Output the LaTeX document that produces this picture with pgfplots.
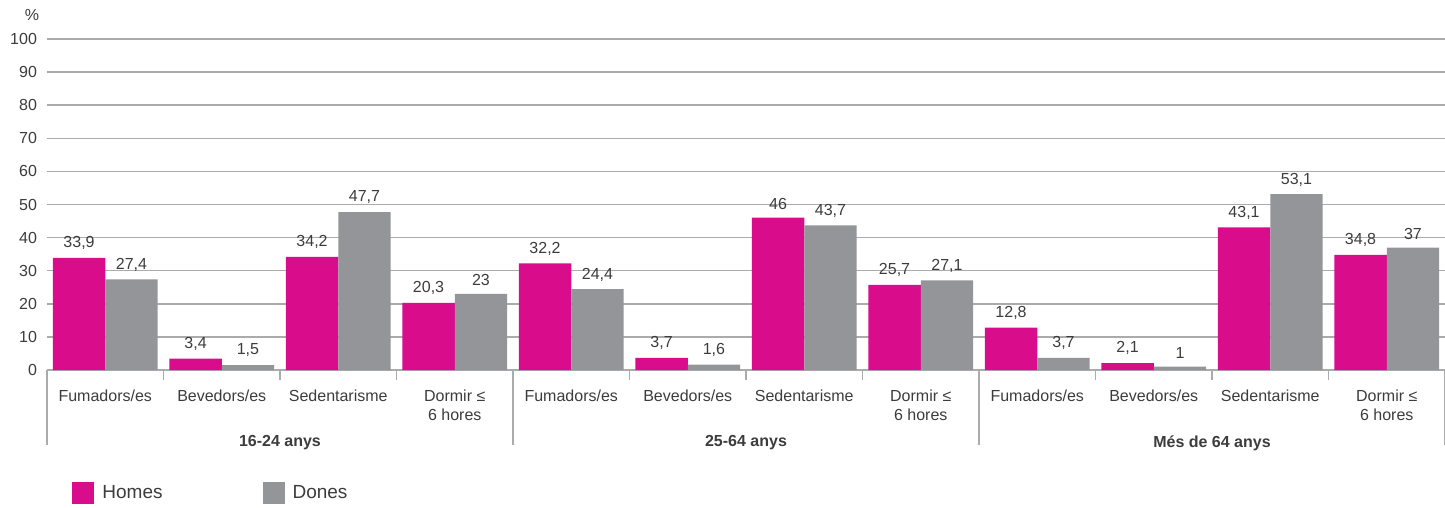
\documentclass[border=0pt]{standalone}
\usepackage{fontspec}
\setmainfont{Liberation Sans}
\usepackage{pgfplots}
\pgfplotsset{compat=1.18}
\definecolor{mag}{HTML}{D90D8B}
\definecolor{gr}{HTML}{939598}
\definecolor{txt}{HTML}{3C3C3C}
\definecolor{gridc}{HTML}{ABABAB}

\pgfplotstableread{
x h d
0 33.9 27.4
1 3.4 1.5
2 34.2 47.7
3 20.3 23
4 32.2 24.4
5 3.7 1.6
6 46 43.7
7 25.7 27.1
8 12.8 3.7
9 2.1 1
10 43.1 53.1
11 34.8 37
}\datatable

\begin{document}
\begin{tikzpicture}
\begin{axis}[
  at={(0,0)}, anchor=south west,
  scale only axis, width=699pt, height=165.5pt,
  xmin=-0.5, xmax=11.5, ymin=0, ymax=100,
  enlargelimits=false,
  ybar=0pt, bar width=0.45,
  ytick={0,10,...,100},
  xtick={0,...,11},
  xticklabels={Fumadors/es,Bevedors/es,Sedentarisme,{Dormir ≤\\6 hores},
               Fumadors/es,Bevedors/es,Sedentarisme,{Dormir ≤\\6 hores},
               Fumadors/es,Bevedors/es,Sedentarisme,{Dormir ≤\\6 hores}},
  major tick length=0pt,
  axis line style={draw=none},
  ymajorgrids, major grid style={gridc, line width=0.75pt},
  /pgf/number format/use comma,
  /pgf/number format/assume math mode=true,
  xticklabel style={font=\fontsize{8}{9.5}\selectfont, text=txt, align=center, anchor=north, yshift=-6.5pt},
  yticklabel style={font=\fontsize{8}{9.5}\selectfont, text=txt, xshift=-1.5pt},
  nodes near coords,
  nodes near coords style={font=\fontsize{8}{9.5}\selectfont, text=txt, yshift=0.5pt},
  legend columns=2,
  legend style={at={(axis description cs:0,0)}, anchor=west, xshift=12.5pt, yshift=-61.5pt,
    draw=none, fill=none, inner sep=0pt, font=\fontsize{9.5}{11}\selectfont, text=txt,
    /tikz/every even column/.append style={column sep=48pt}},
  legend image code/.code={\fill[#1] (0pt,-5.5pt) rectangle (11pt,5.5pt); \path (13pt,0pt);},
  clip=false,
]
\addplot[fill=mag, draw=none] table[x=x, y=h] {\datatable};
\addplot[fill=gr, draw=none] table[x=x, y=d] {\datatable};
\legend{Homes, Dones}
\pgfplotsinvokeforeach{-0.5,3.5,7.5,11.5}{
  \draw[gridc, line width=0.75pt] (axis cs:#1,0) -- ([yshift=-37.5pt]axis cs:#1,0);
}
\pgfplotsinvokeforeach{0.5,1.5,2.5,4.5,5.5,6.5,8.5,9.5,10.5}{
  \draw[gridc, line width=0.75pt] (axis cs:#1,0) -- ([yshift=-5pt]axis cs:#1,0);
}
\node[font=\bfseries\fontsize{8}{9.5}\selectfont, text=txt] at ([yshift=-36.5pt]axis cs:1.5,0) {16-24 anys};
\node[font=\bfseries\fontsize{8}{9.5}\selectfont, text=txt] at ([yshift=-36.5pt]axis cs:5.5,0) {25-64 anys};
\node[font=\bfseries\fontsize{8}{9.5}\selectfont, text=txt] at ([yshift=-36.5pt]axis cs:9.5,0) {Més de 64 anys};
\node[font=\fontsize{8}{9.5}\selectfont, text=txt] at ([xshift=-7.5pt, yshift=12pt]rel axis cs:0,1) {\%};
\end{axis}
\pgfresetboundingbox
\path[use as bounding box] (-23.5pt,-69pt) rectangle (699pt,185pt);
\end{tikzpicture}
\end{document}
